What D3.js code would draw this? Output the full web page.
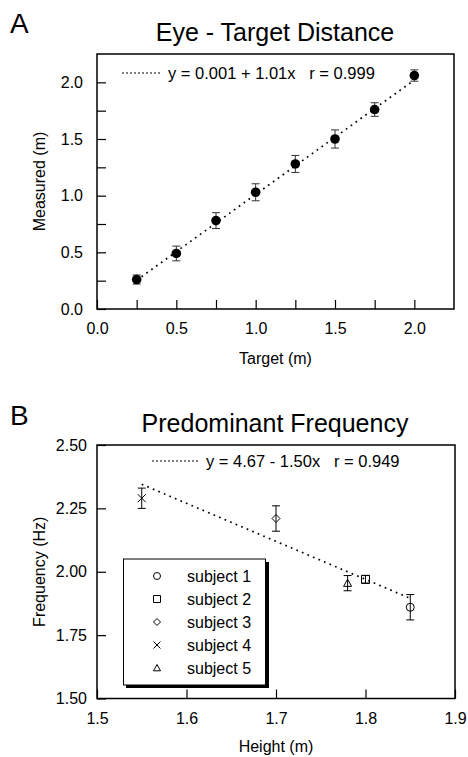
<!DOCTYPE html>
<html>
<head>
<meta charset="utf-8">
<script src="https://cdn.jsdelivr.net/npm/d3@7"></script>
<style>
body { margin: 0; background: #fff; }
text { font-family: "Liberation Sans", Arial, sans-serif; fill: #000; }
</style>
</head>
<body>
<svg id="chart" width="468" height="757"></svg>
<script>
// panel A data
let targetA = [0.25, 0.5, 0.75, 1.0, 1.25, 1.5, 1.75, 2.0];
let measuredA = [0.26, 0.49, 0.78, 1.03, 1.28, 1.50, 1.76, 2.06];
let errA = [0.04, 0.065, 0.07, 0.075, 0.075, 0.08, 0.06, 0.05];
let fitA = {a: 0.001, b: 1.01};
let ticksA = [0, 0.25, 0.5, 0.75, 1.0, 1.25, 1.5, 1.75, 2.0];

// panel B data
let subjects = ['subject 1', 'subject 2', 'subject 3', 'subject 4', 'subject 5'];
let symbolsB = ['circle', 'square', 'diamond', 'cross', 'triangle'];
let heightB = [1.85, 1.80, 1.70, 1.55, 1.78];
let freqB = [1.86, 1.97, 2.21, 2.29, 1.955];
let errB = [0.05, 0.015, 0.05, 0.04, 0.03];
let fitB = {a: 4.67, b: -1.50};
let xTicksB = [1.5, 1.6, 1.7, 1.8, 1.9];
let yTicksB = [1.5, 1.75, 2.0, 2.25, 2.5];

let svg = d3.select('#chart');

//坐标框
function frame(x, y, xt, yt, opt) {
    let g = svg.append('g');
    let xr = x.range(), yr = y.range();
    g.append('g')
        .attr('transform', 'translate(0,' + yr[0] + ')')
        .call(d3.axisBottom(x).tickValues(xt).tickSize(-9).tickPadding(opt.xPad).tickFormat(opt.xFmt))
        .call(s => s.select('.domain').remove())
        .call(s => s.selectAll('text').style('font-size', '16px'));
    g.append('g')
        .attr('transform', 'translate(' + xr[0] + ',0)')
        .call(d3.axisLeft(y).tickValues(yt).tickSize(-9).tickPadding(opt.yPad).tickFormat(opt.yFmt))
        .call(s => s.select('.domain').remove())
        .call(s => s.selectAll('text').style('font-size', '16px'));
    g.selectAll('.tick line').attr('stroke', '#000').attr('stroke-width', 1.2);
    g.append('rect')
        .attr('x', xr[0]).attr('y', yr[1])
        .attr('width', xr[1] - xr[0]).attr('height', yr[0] - yr[1])
        .attr('fill', 'none').attr('stroke', '#000').attr('stroke-width', 1.5);
    // titles
    svg.append('text').attr('x', 10).attr('y', opt.letterY).style('font-size', '28px').text(opt.letter);
    svg.append('text').attr('x', 275).attr('y', opt.titleY).attr('text-anchor', 'middle')
        .style('font-size', '25px').text(opt.title);
    svg.append('text').attr('x', (xr[0] + xr[1]) / 2).attr('y', opt.xLabY).attr('text-anchor', 'middle')
        .style('font-size', '16px').text(opt.xLab);
    svg.append('text')
        .attr('transform', 'translate(' + 45 + ',' + (yr[0] + yr[1]) / 2 + ') rotate(-90)')
        .attr('text-anchor', 'middle').style('font-size', '16px').text(opt.yLab);
    // equation legend
    svg.append('line')
        .attr('x1', opt.eqX).attr('x2', opt.eqX + opt.eqLen)
        .attr('y1', opt.eqY).attr('y2', opt.eqY)
        .attr('stroke', '#000').attr('stroke-width', 1).attr('stroke-dasharray', '2,2');
    svg.append('text').attr('x', opt.eqX + opt.eqLen + 6).attr('y', opt.eqY + 6)
        .style('font-size', '16.5px').attr('xml:space', 'preserve').text(opt.eq);
}

// ---------- Panel A ----------
let xA = d3.scaleLinear().domain([0, 2.25]).range([97, 454]);
let yA = d3.scaleLinear().domain([0, 2.25]).range([309, 54]);
let half = d => (Math.round(d * 100) % 50 === 0 ? d3.format('.1f')(d) : '');
frame(xA, yA, ticksA, ticksA, {
    xPad: 14, yPad: 14, xFmt: half, yFmt: half,
    letter: 'A', letterY: 33, title: 'Eye - Target Distance', titleY: 41,
    xLab: 'Target (m)', xLabY: 364, yLab: 'Measured (m)',
    eqX: 122, eqLen: 40, eqY: 73, eq: 'y = 0.001 + 1.01x   r = 0.999'
});

let line = d3.line().x(d => d[0]).y(d => d[1]);
let x0A = d3.min(targetA), x1A = d3.max(targetA);
svg.append('path')
    .attr('d', line([[xA(x0A), yA(fitA.a + fitA.b * x0A)], [xA(x1A), yA(fitA.a + fitA.b * x1A)]]))
    .attr('stroke', '#000').attr('stroke-width', 1.7).attr('stroke-dasharray', '1.7,4.3').attr('fill', 'none');

let gA = svg.append('g');
targetA.forEach(function (t, i) {
    let cx = xA(t), top = yA(measuredA[i] + errA[i]), bot = yA(measuredA[i] - errA[i]);
    gA.append('path')
        .attr('d', 'M' + cx + ',' + top + 'V' + bot + 'M' + (cx - 4) + ',' + top + 'h8M' + (cx - 4) + ',' + bot + 'h8')
        .attr('stroke', '#333').attr('stroke-width', 1).attr('fill', 'none');
    gA.append('circle').attr('cx', cx).attr('cy', yA(measuredA[i])).attr('r', 4.8).attr('fill', '#000');
});

// ---------- Panel B ----------
let xB = d3.scaleLinear().domain([1.5, 1.9]).range([97, 455]);
let yB = d3.scaleLinear().domain([1.5, 2.5]).range([698.5, 445]);
frame(xB, yB, xTicksB, yTicksB, {
    xPad: 14, yPad: 10, xFmt: d3.format('.1f'), yFmt: d3.format('.2f'),
    letter: 'B', letterY: 425, title: 'Predominant Frequency', titleY: 432,
    xLab: 'Height (m)', xLabY: 752, yLab: 'Frequency (Hz)',
    eqX: 152, eqLen: 48, eqY: 461, eq: 'y = 4.67 - 1.50x   r = 0.949'
});

let x0B = d3.min(heightB), x1B = d3.max(heightB);
svg.append('path')
    .attr('d', line([[xB(x0B), yB(fitB.a + fitB.b * x0B)], [xB(x1B), yB(fitB.a + fitB.b * x1B)]]))
    .attr('stroke', '#000').attr('stroke-width', 1.7).attr('stroke-dasharray', '1.7,4.3').attr('fill', 'none');

//符号
function marker(g, type, cx, cy, s) {
    let m = g.append('path').attr('fill', 'none').attr('stroke', '#000').attr('stroke-width', 1);
    if (type === 'circle') m.attr('d', d3.arc()({innerRadius: 0, outerRadius: s, startAngle: 0, endAngle: 2 * Math.PI}))
        .attr('transform', 'translate(' + cx + ',' + cy + ')');
    else if (type === 'square') m.attr('d', 'M' + (cx - s) + ',' + (cy - s) + 'h' + 2 * s + 'v' + 2 * s + 'h' + (-2 * s) + 'Z');
    else if (type === 'diamond') m.attr('d', 'M' + cx + ',' + (cy - s) + 'L' + (cx + s) + ',' + cy + 'L' + cx + ',' + (cy + s) + 'L' + (cx - s) + ',' + cy + 'Z');
    else if (type === 'cross') m.attr('d', 'M' + (cx - s) + ',' + (cy - s) + 'L' + (cx + s) + ',' + (cy + s) + 'M' + (cx + s) + ',' + (cy - s) + 'L' + (cx - s) + ',' + (cy + s));
    else m.attr('d', 'M' + cx + ',' + (cy - s) + 'L' + (cx + s) + ',' + (cy + s * 0.8) + 'L' + (cx - s) + ',' + (cy + s * 0.8) + 'Z');
}

let gB = svg.append('g');
heightB.forEach(function (h, i) {
    let cx = xB(h), top = yB(freqB[i] + errB[i]), bot = yB(freqB[i] - errB[i]);
    gB.append('path')
        .attr('d', 'M' + cx + ',' + top + 'V' + bot + 'M' + (cx - 4) + ',' + top + 'h8M' + (cx - 4) + ',' + bot + 'h8')
        .attr('stroke', '#000').attr('stroke-width', 1).attr('fill', 'none');
    marker(gB, symbolsB[i], cx, yB(freqB[i]), 4);
});

// legend box with shadow
let lg = svg.append('g');
lg.append('rect').attr('x', 126).attr('y', 562).attr('width', 143).attr('height', 126).attr('fill', '#000');
lg.append('rect').attr('x', 123.5).attr('y', 559).attr('width', 142).attr('height', 126)
    .attr('fill', '#fff').attr('stroke', '#000').attr('stroke-width', 1);
subjects.forEach(function (s, i) {
    let cy = 576 + i * 23;
    marker(lg, symbolsB[i], 157, cy, 3.5);
    lg.append('text').attr('x', 187).attr('y', cy + 5.5).style('font-size', '16px').text(s);
});
</script>
</body>
</html>
